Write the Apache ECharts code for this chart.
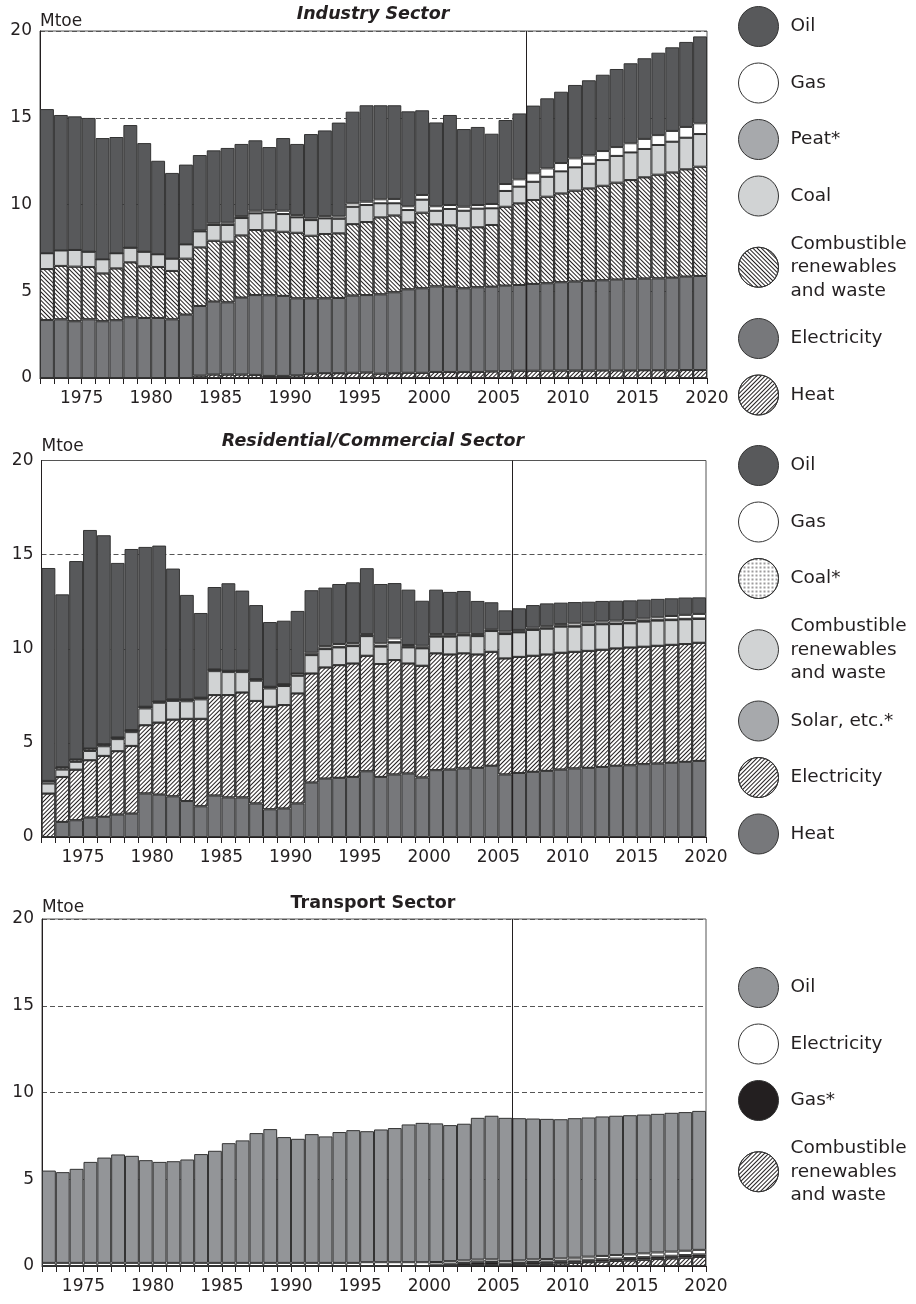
<!DOCTYPE html>
<html>
<head>
<meta charset="utf-8">
<script src="https://cdn.jsdelivr.net/npm/echarts@6.0.0/dist/echarts.min.js"></script>
<style>
  html, body { margin: 0; padding: 0; background: #fff; }
  #chart { width: 916px; height: 1304px; }
</style>
</head>
<body>
<div id="chart"></div>
<script>
const years = [1973, 1974, 1975, 1976, 1977, 1978, 1979, 1980, 1981, 1982, 1983, 1984, 1985, 1986, 1987, 1988,
  1989, 1990, 1991, 1992, 1993, 1994, 1995, 1996, 1997, 1998, 1999, 2000, 2001, 2002, 2003, 2004,
  2005, 2006, 2007, 2008, 2009, 2010, 2011, 2012, 2013, 2014, 2015, 2016, 2017, 2018, 2019, 2020];

// Industry (Mtoe), bottom of stack first
const indHeat = [0, 0, 0, 0, 0, 0, 0, 0, 0, 0, 0, 0.14, 0.20, 0.20, 0.20, 0.18, 0.12, 0.12, 0.15, 0.25, 0.28, 0.28, 0.30, 0.32,
  0.25, 0.28, 0.30, 0.30, 0.35, 0.35, 0.35, 0.35, 0.38, 0.40, 0.42, 0.42, 0.42, 0.43, 0.43, 0.43, 0.44, 0.44, 0.44, 0.45, 0.45, 0.45, 0.46, 0.46];
const indElec = [3.34, 3.38, 3.27, 3.38, 3.27, 3.33, 3.50, 3.46, 3.46, 3.38, 3.65, 4.01, 4.20, 4.16, 4.43, 4.60, 4.65, 4.61, 4.44, 4.34,
  4.31, 4.33, 4.45, 4.46, 4.57, 4.66, 4.81, 4.87, 4.93, 4.91, 4.82, 4.88, 4.88, 4.92, 4.94, 5.00, 5.04, 5.09, 5.13, 5.17, 5.19, 5.23,
  5.27, 5.28, 5.29, 5.33, 5.38, 5.42];
const indCrw = [2.94, 3.08, 3.15, 3.02, 2.76, 2.99, 3.17, 2.98, 2.94, 2.79, 3.23, 3.38, 3.51, 3.50, 3.59, 3.75, 3.74, 3.70, 3.78, 3.61,
  3.71, 3.73, 4.12, 4.21, 4.44, 4.43, 3.86, 4.36, 3.58, 3.54, 3.46, 3.46, 3.56, 4.55, 4.71, 4.84, 4.99, 5.12, 5.24, 5.33, 5.45, 5.59,
  5.70, 5.84, 5.98, 6.07, 6.19, 6.30];
const indCoal = [0.91, 0.89, 0.96, 0.88, 0.81, 0.87, 0.84, 0.84, 0.73, 0.71, 0.82, 0.92, 0.91, 0.96, 1.00, 0.96, 1.03, 1.02, 0.89, 0.90,
  0.90, 0.84, 1.00, 0.98, 0.81, 0.70, 0.71, 0.75, 0.78, 0.94, 1.01, 1.07, 0.96, 0.91, 0.96, 1.05, 1.15, 1.27, 1.34, 1.42, 1.48, 1.54,
  1.59, 1.63, 1.71, 1.77, 1.82, 1.88];
const indPeat = [0, 0, 0, 0, 0, 0, 0, 0, 0, 0, 0, 0, 0, 0, 0, 0, 0, 0, 0, 0, 0, 0, 0, 0,
  0, 0, 0, 0, 0, 0, 0, 0, 0, 0, 0, 0, 0, 0, 0, 0, 0, 0, 0, 0, 0, 0, 0, 0];
const indGas = [0, 0, 0, 0, 0, 0, 0, 0, 0, 0, 0, 0.05, 0.10, 0.13, 0.11, 0.15, 0.13, 0.19, 0.13, 0.10, 0.13, 0.13, 0.20, 0.19,
  0.23, 0.25, 0.22, 0.27, 0.26, 0.23, 0.23, 0.21, 0.25, 0.40, 0.42, 0.49, 0.48, 0.48, 0.52, 0.48, 0.52, 0.51, 0.53, 0.58, 0.57, 0.62, 0.62, 0.62];
const indOil = [8.31, 7.81, 7.70, 7.71, 6.99, 6.70, 7.07, 6.26, 5.39, 4.94, 4.60, 4.35, 4.20, 4.31, 4.16, 4.06, 3.64, 4.19, 4.10, 4.86,
  4.94, 5.41, 5.28, 5.56, 5.42, 5.40, 5.47, 4.88, 4.83, 5.19, 4.48, 4.50, 4.05, 3.69, 3.80, 3.90, 4.04, 4.11, 4.23, 4.33, 4.40, 4.50,
  4.61, 4.65, 4.75, 4.82, 4.90, 5.01];

// Residential/Commercial (Mtoe)
const resHeat = [0, 0.80, 0.89, 1.03, 1.07, 1.19, 1.24, 2.31, 2.25, 2.16, 1.91, 1.63, 2.20, 2.10, 2.10, 1.78, 1.47, 1.51, 1.78, 2.89,
  3.10, 3.14, 3.19, 3.49, 3.19, 3.32, 3.37, 3.16, 3.55, 3.58, 3.64, 3.67, 3.78, 3.32, 3.40, 3.46, 3.51, 3.58, 3.64, 3.67, 3.72, 3.78,
  3.81, 3.87, 3.90, 3.94, 3.99, 4.04];
const resElec = [2.31, 2.39, 2.69, 3.05, 3.24, 3.37, 3.60, 3.63, 3.83, 4.08, 4.37, 4.65, 5.34, 5.44, 5.58, 5.45, 5.45, 5.50, 5.85, 5.80,
  5.91, 5.99, 6.03, 6.14, 6.00, 6.08, 5.85, 5.94, 6.21, 6.12, 6.12, 6.03, 6.06, 6.17, 6.17, 6.17, 6.19, 6.21, 6.20, 6.22, 6.23, 6.24,
  6.26, 6.24, 6.26, 6.27, 6.26, 6.28];
const resSolar = [0, 0, 0, 0, 0, 0, 0, 0, 0, 0, 0, 0, 0, 0, 0, 0, 0, 0, 0, 0, 0, 0, 0, 0,
  0, 0, 0, 0, 0, 0, 0, 0, 0, 0, 0, 0, 0, 0, 0, 0, 0, 0, 0, 0, 0, 0, 0, 0];
const resCrw = [0.53, 0.39, 0.41, 0.49, 0.51, 0.64, 0.73, 0.89, 1.05, 0.99, 0.93, 1.03, 1.27, 1.22, 1.08, 1.07, 0.97, 1.01, 0.93, 0.97,
  0.97, 0.94, 0.92, 1.04, 0.92, 0.92, 0.85, 0.92, 0.88, 0.94, 0.95, 0.97, 1.10, 1.29, 1.30, 1.37, 1.36, 1.38, 1.33, 1.37, 1.35, 1.29,
  1.28, 1.33, 1.33, 1.31, 1.31, 1.26];
const resCoal = [0.14, 0.13, 0.13, 0.13, 0.11, 0.09, 0.11, 0.09, 0.07, 0.08, 0.10, 0.09, 0.09, 0.07, 0.08, 0.09, 0.09, 0.10, 0.13, 0.03,
  0.03, 0.03, 0.03, 0.03, 0.03, 0.03, 0.03, 0.03, 0.03, 0.03, 0.03, 0.03, 0.03, 0.03, 0.03, 0.03, 0.03, 0.03, 0.03, 0.03, 0.03, 0.03,
  0.03, 0.03, 0.03, 0.03, 0.03, 0.03];
const resGas = [0, 0, 0, 0, 0, 0, 0, 0, 0, 0, 0, 0, 0, 0, 0, 0, 0, 0, 0, 0.10, 0.13, 0.15, 0.13, 0.08,
  0.15, 0.20, 0.10, 0.11, 0.11, 0.11, 0.08, 0.08, 0.06, 0.10, 0.10, 0.09, 0.11, 0.11, 0.15, 0.11, 0.12, 0.15, 0.14, 0.13, 0.15, 0.19, 0.21, 0.24];
const resOil = [11.31, 9.18, 10.54, 11.61, 11.10, 9.27, 9.62, 8.49, 8.28, 6.95, 5.55, 4.50, 4.38, 4.65, 4.25, 3.93, 3.44, 3.37, 3.32, 3.32,
  3.11, 3.19, 3.23, 3.50, 3.15, 2.94, 2.94, 2.39, 2.36, 2.24, 2.25, 1.76, 1.44, 1.13, 1.15, 1.20, 1.21, 1.14, 1.13, 1.10, 1.09, 1.06,
  1.05, 1.01, 0.98, 0.94, 0.92, 0.88];

// Transport (Mtoe)
const traCrw = [0, 0, 0, 0, 0, 0, 0, 0, 0, 0, 0, 0, 0, 0, 0, 0, 0, 0, 0, 0, 0, 0, 0, 0,
  0, 0, 0, 0, 0, 0, 0.02, 0.04, 0.05, 0.03, 0.05, 0.08, 0.12, 0.15, 0.18, 0.22, 0.25, 0.29, 0.32, 0.36, 0.40, 0.44, 0.48, 0.52];
const traGas = [0, 0, 0, 0, 0, 0, 0, 0, 0, 0, 0, 0, 0, 0, 0, 0, 0, 0, 0, 0, 0, 0, 0, 0,
  0, 0, 0, 0, 0.08, 0.13, 0.15, 0.18, 0.18, 0.10, 0.12, 0.15, 0.13, 0.13, 0.13, 0.14, 0.14, 0.14, 0.14, 0.15, 0.15, 0.15, 0.15, 0.15];
const traElec = [0.18, 0.18, 0.18, 0.18, 0.18, 0.18, 0.18, 0.18, 0.18, 0.18, 0.18, 0.18, 0.18, 0.18, 0.18, 0.18, 0.18, 0.18, 0.18, 0.18,
  0.18, 0.18, 0.18, 0.22, 0.22, 0.22, 0.22, 0.22, 0.15, 0.15, 0.15, 0.15, 0.15, 0.15, 0.15, 0.15, 0.15, 0.16, 0.17, 0.18, 0.19, 0.20,
  0.21, 0.22, 0.23, 0.24, 0.25, 0.26];
const traOil = [5.32, 5.23, 5.42, 5.82, 6.07, 6.25, 6.17, 5.92, 5.82, 5.86, 5.96, 6.27, 6.46, 6.90, 7.06, 7.48, 7.71, 7.25, 7.15, 7.42,
  7.29, 7.54, 7.65, 7.55, 7.65, 7.73, 7.94, 8.03, 7.99, 7.84, 7.88, 8.17, 8.28, 8.26, 8.20, 8.12, 8.08, 8.02, 8.04, 8.02, 8.04, 8.03,
  8.02, 8.00, 7.99, 8.00, 7.99, 8.01];

// year boundaries where the projection starts
const industryCut = 2007;
const residentialCut = 2006;
const transportCut = 2006;

const font = 'DejaVu Sans';
const ink = '#231f20';
const combustible = 'Combustible\nrenewables\nand waste';

const hatchDown = { symbol: 'rect', symbolSize: 1, dashArrayX: [1, 0], dashArrayY: [1, 2], rotation: Math.PI / 4, color: ink };
const hatchUp = { symbol: 'rect', symbolSize: 1, dashArrayX: [1, 0], dashArrayY: [1, 2], rotation: -Math.PI / 4, color: ink };
const dots = { symbol: 'circle', symbolSize: 0.8, dashArrayX: [2, 2], dashArrayY: [2, 2], rotation: 0, color: ink };

function bars(name, values, g, style, cut) {
  let s = {
    name: name,
    type: 'bar',
    xAxisIndex: g,
    yAxisIndex: g,
    stack: 'panel' + g,
    barWidth: '100%',
    encode: { x: 1, y: 0 },
    data: years.map((y, i) => [values[i], y - 0.5]),
    itemStyle: Object.assign({ borderColor: '#333', borderWidth: 1 }, style),
    emphasis: { disabled: true }
  };
  if (cut) {
    s.markLine = {
      silent: true,
      symbol: ['none', 'none'],
      label: { show: false },
      lineStyle: { color: ink, width: 1, type: 'solid' },
      data: [{ xAxis: cut }]
    };
  }
  return s;
}

function legend(top, names) {
  return {
    orient: 'vertical',
    left: 733,
    top: top,
    itemWidth: 54,
    itemHeight: 40,
    itemGap: 15.5,
    icon: 'circle',
    selectedMode: false,
    data: names,
    formatter: n => n.split('|')[1],
    itemStyle: { borderColor: '#333', borderWidth: 1 },
    textStyle: { fontFamily: font, fontSize: 18.5, lineHeight: 23.5, color: ink }
  };
}

function xAxis(g) {
  return {
    gridIndex: g,
    type: 'value',
    min: 1972,
    max: 2020,
    interval: 1,
    splitLine: { show: false },
    axisLine: { lineStyle: { color: ink } },
    axisTick: { length: 6, lineStyle: { color: ink } },
    axisLabel: {
      formatter: v => (v % 5 === 0 ? String(v) : ''),
      showMaxLabel: true,
      fontFamily: font, fontSize: 17, color: ink, margin: 12
    }
  };
}

function yAxis(g, nameGap) {
  return {
    gridIndex: g,
    type: 'value',
    min: 0,
    max: 20,
    interval: 5,
    name: 'Mtoe',
    nameLocation: 'end',
    nameGap: nameGap,
    nameTextStyle: { align: 'left', verticalAlign: 'bottom', fontFamily: font, fontSize: 17, color: ink },
    axisLine: { show: true, lineStyle: { color: ink } },
    axisTick: { show: false },
    axisLabel: { margin: 8, fontFamily: font, fontSize: 17, color: ink },
    splitLine: { lineStyle: { color: '#555', type: [5, 3] } }
  };
}

function title(text, top, italic) {
  return {
    text: text,
    left: 373,
    top: top,
    textAlign: 'center',
    padding: 0,
    textStyle: { fontFamily: font, fontSize: 17.5, fontWeight: 'bold', fontStyle: italic ? 'italic' : 'normal', color: ink }
  };
}

let chart = echarts.init(document.getElementById('chart'), null, { renderer: 'canvas' });

let option = {
  animation: false,
  backgroundColor: '#fff',
  title: [
    title('Industry Sector', 5, true),
    title('Residential/Commercial Sector', 432, true),
    title('Transport Sector', 894, false)
  ],
  grid: [
    { left: 40, right: 209, top: 31, height: 347, show: true, borderColor: '#555', borderWidth: 1 },
    { left: 41.5, right: 210, top: 460.5, height: 376.5, show: true, borderColor: '#555', borderWidth: 1 },
    { left: 42, right: 210, top: 919, height: 347, show: true, borderColor: '#555', borderWidth: 1 }
  ],
  xAxis: [xAxis(0), xAxis(1), xAxis(2)],
  yAxis: [yAxis(0, 1), yAxis(1, 5), yAxis(2, 3)],
  legend: [
    legend(1, ['Industry|Oil', 'Industry|Gas', 'Industry|Peat*', 'Industry|Coal', 'Industry|' + combustible,
      'Industry|Electricity', 'Industry|Heat']),
    legend(440, ['Residential|Oil', 'Residential|Gas', 'Residential|Coal*', 'Residential|' + combustible,
      'Residential|Solar, etc.*', 'Residential|Electricity', 'Residential|Heat']),
    legend(962, ['Transport|Oil', 'Transport|Electricity', 'Transport|Gas*', 'Transport|' + combustible])
  ],
  series: [
    bars('Industry|Heat', indHeat, 0, { color: '#fff', decal: hatchUp }),
    bars('Industry|Electricity', indElec, 0, { color: '#77787b' }),
    bars('Industry|' + combustible, indCrw, 0, { color: '#fff', decal: hatchDown }),
    bars('Industry|Coal', indCoal, 0, { color: '#d1d3d4' }),
    bars('Industry|Peat*', indPeat, 0, { color: '#a7a9ac' }),
    bars('Industry|Gas', indGas, 0, { color: '#ffffff' }),
    bars('Industry|Oil', indOil, 0, { color: '#58595b' }, industryCut),

    bars('Residential|Heat', resHeat, 1, { color: '#77787b' }),
    bars('Residential|Electricity', resElec, 1, { color: '#fff', decal: hatchUp }),
    bars('Residential|Solar, etc.*', resSolar, 1, { color: '#a7a9ac' }),
    bars('Residential|' + combustible, resCrw, 1, { color: '#d1d3d4' }),
    bars('Residential|Coal*', resCoal, 1, { color: '#fff', decal: dots }),
    bars('Residential|Gas', resGas, 1, { color: '#ffffff' }),
    bars('Residential|Oil', resOil, 1, { color: '#58595b' }, residentialCut),

    bars('Transport|' + combustible, traCrw, 2, { color: '#fff', decal: hatchUp }),
    bars('Transport|Gas*', traGas, 2, { color: '#231f20' }),
    bars('Transport|Electricity', traElec, 2, { color: '#ffffff' }),
    bars('Transport|Oil', traOil, 2, { color: '#939598' }, transportCut)
  ]
};

chart.setOption(option);
</script>
</body>
</html>
